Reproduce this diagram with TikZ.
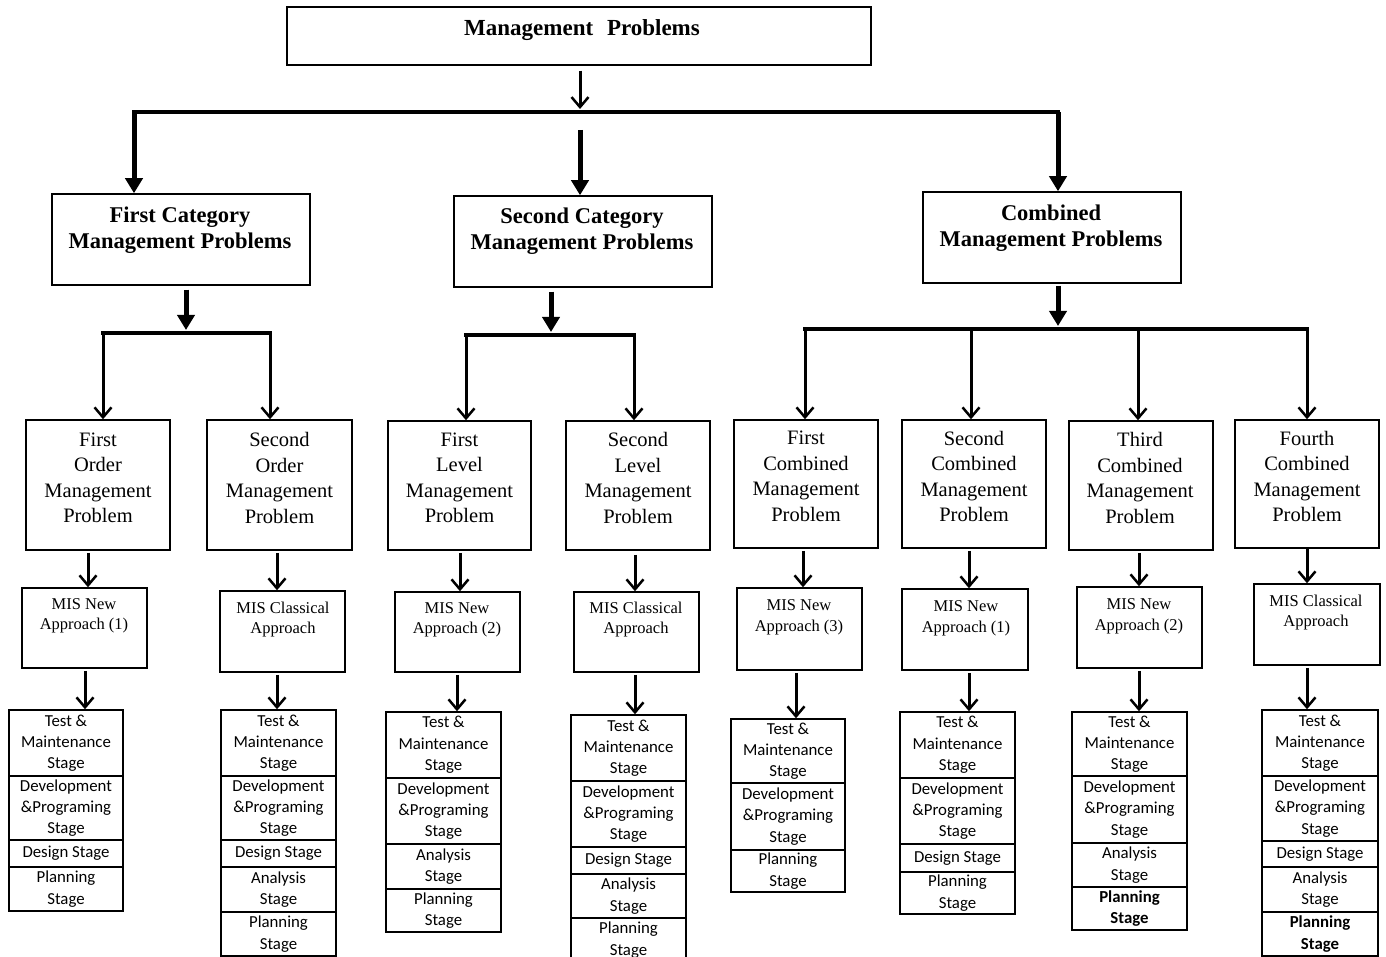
\documentclass[tikz,border=0pt]{standalone}
\usepackage{fontspec}
\setmainfont{Liberation Serif}
\newfontfamily\stagefont{Carlito}
\usetikzlibrary{arrows.meta,fit}
\tikzset{
  box/.style={draw, line width=1.5pt, inner sep=0pt},
  cell/.style={draw, line width=1.5pt, inner sep=0pt},
  celltxt/.style={align=center, inner sep=0pt, font=\stagefont\fontsize{16.8}{21.3}\selectfont},
  toptxt/.style={font=\bfseries\fontsize{23}{26}\selectfont, align=center, inner sep=0pt},
  cattxt/.style={font=\bfseries\fontsize{22.5}{26}\selectfont, align=center, inner sep=0pt},
  lvtxt/.style={font=\fontsize{20.5}{25.5}\selectfont, align=center, inner sep=0pt},
  mistxt/.style={font=\fontsize{16.5}{20.5}\selectfont, align=center, inner sep=0pt},
  bar/.style={line width=4.5pt, line cap=rect},
  thinarr/.style={line width=3pt, -{Straight Barb[length=10pt,width=17pt,line width=2.5pt]}},
  bigarr/.style={line width=5pt, -{Triangle[length=15pt,width=17pt]}},
  medarr/.style={line width=3pt, -{Straight Barb[length=10pt,width=17pt,line width=2.5pt]}},
}
\newcommand{\tbox}[6]{%
  \node[box, fit={#2 #3}] (#1) {};
  \node[#5] (#1-t) at #4 {#6};}
\newcommand{\stg}[4]{%
  \node[cell, fit={#2 #3}] (#1) {};
  \node[celltxt] (#1-t) at (#1.center) {#4};}
\newcommand{\TM}{Test \&\\Maintenance\\Stage}
\newcommand{\DP}{Development\\\&Programing\\Stage}
\newcommand{\DS}{Design Stage}
\newcommand{\AS}{Analysis\\Stage}
\newcommand{\PS}{Planning\\Stage}
\newcommand{\PSb}{\bfseries Planning\\\bfseries Stage}
\begin{document}
\begin{tikzpicture}[x=1pt,y=-1pt]
\useasboundingbox (0,0) rectangle (1386,957);
\fill[white] (0,0) rectangle (1386,957);

% top
\tbox{t}{(287,7)}{(871,65)}{(582,30)}{toptxt}{Management\hspace{0.35em} Problems}
% categories
\tbox{c1}{(52,194)}{(310,285)}{(180,230)}{cattxt}{First Category\\Management Problems}
\tbox{c2}{(454,196)}{(712,287)}{(582,231.5)}{cattxt}{Second Category\\Management Problems}
\tbox{c3}{(923,192)}{(1181,283)}{(1051,228)}{cattxt}{Combined\\Management Problems}

% level 3
\tbox{l1}{(26,420)}{(170,550)}{(98,478)}{lvtxt}{First\\Order\\Management\\Problem}
\tbox{l2}{(207,420)}{(352,550)}{(279.5,478)}{lvtxt}{Second\\Order\\Management\\Problem}
\tbox{l3}{(388,421)}{(531,550)}{(459.5,478)}{lvtxt}{First\\Level\\Management\\Problem}
\tbox{l4}{(566,421)}{(710,550)}{(638,478)}{lvtxt}{Second\\Level\\Management\\Problem}
\tbox{l5}{(734,420)}{(878,548)}{(806,476.5)}{lvtxt}{First\\Combined\\Management\\Problem}
\tbox{l6}{(902,420)}{(1046,548)}{(974,476.5)}{lvtxt}{Second\\Combined\\Management\\Problem}
\tbox{l7}{(1069,421)}{(1213,550)}{(1140,478)}{lvtxt}{Third\\Combined\\Management\\Problem}
\tbox{l8}{(1235,420)}{(1379,548)}{(1307,476.5)}{lvtxt}{Fourth\\Combined\\Management\\Problem}

% MIS boxes
\tbox{m1}{(22,588)}{(147,668)}{(84,616)}{mistxt}{MIS New\\Approach (1)}
\tbox{m2}{(220,591)}{(345,672)}{(283,619.5)}{mistxt}{MIS Classical\\Approach}
\tbox{m3}{(395,592)}{(520,672)}{(457,620)}{mistxt}{MIS New\\Approach (2)}
\tbox{m4}{(574,592)}{(699,672)}{(636,619.5)}{mistxt}{MIS Classical\\Approach}
\tbox{m5}{(737,588)}{(862,670)}{(799,617.5)}{mistxt}{MIS New\\Approach (3)}
\tbox{m6}{(902,589)}{(1028,670)}{(966,618.5)}{mistxt}{MIS New\\Approach (1)}
\tbox{m7}{(1077,587)}{(1202,668)}{(1139,616.5)}{mistxt}{MIS New\\Approach (2)}
\tbox{m8}{(1254,584)}{(1380,665)}{(1316,612.5)}{mistxt}{MIS Classical\\Approach}

% stage stacks
\stg{s1a}{(9,710)}{(123,776)}{\TM}
\stg{s1b}{(9,776)}{(123,840)}{\DP}
\stg{s1c}{(9,840)}{(123,867)}{\DS}
\stg{s1d}{(9,867)}{(123,911)}{\PS}

\stg{s2a}{(221,710)}{(336,776)}{\TM}
\stg{s2b}{(221,776)}{(336,840)}{\DP}
\stg{s2c}{(221,840)}{(336,867)}{\DS}
\stg{s2d}{(221,867)}{(336,912)}{\AS}
\stg{s2e}{(221,912)}{(336,956)}{\PS}

\stg{s3a}{(386,712)}{(501,778)}{\TM}
\stg{s3b}{(386,778)}{(501,844)}{\DP}
\stg{s3c}{(386,844)}{(501,889)}{\AS}
\stg{s3d}{(386,889)}{(501,932)}{\PS}

\stg{s4a}{(571,715)}{(686,781)}{\TM}
\stg{s4b}{(571,781)}{(686,847)}{\DP}
\stg{s4c}{(571,847)}{(686,874)}{\DS}
\stg{s4d}{(571,874)}{(686,918)}{\AS}
\stg{s4e}{(571,918)}{(686,962)}{\PS}

\stg{s5a}{(731,719)}{(845,783)}{\TM}
\stg{s5b}{(731,783)}{(845,850)}{\DP}
\stg{s5c}{(731,850)}{(845,892)}{\PS}

\stg{s6a}{(900,712)}{(1015,778)}{\TM}
\stg{s6b}{(900,778)}{(1015,844)}{\DP}
\stg{s6c}{(900,844)}{(1015,872)}{\DS}
\stg{s6d}{(900,872)}{(1015,914)}{\PS}

\stg{s7a}{(1072,712)}{(1187,776)}{\TM}
\stg{s7b}{(1072,776)}{(1187,843)}{\DP}
\stg{s7c}{(1072,843)}{(1187,887)}{\AS}
\stg{s7d}{(1072,887)}{(1187,930)}{\PSb}

\stg{s8a}{(1262,710)}{(1378,776)}{\TM}
\stg{s8b}{(1262,776)}{(1378,841)}{\DP}
\stg{s8c}{(1262,841)}{(1378,867)}{\DS}
\stg{s8d}{(1262,867)}{(1378,912)}{\AS}
\stg{s8e}{(1262,912)}{(1378,956)}{\PSb}

% ---- connectors: top level
\coordinate (b0) at (580,109);
\coordinate (b1) at (134,112);
\coordinate (b2) at (580,130);
\coordinate (b3) at (1058,112);
\draw[thinarr, shorten <=5pt] (t.south -| b0) -- (b0);
\draw[bar] (b1) -- (b3);
\draw[bigarr] (b1) -- (b1 |- c1.north);
\draw[bigarr] (b2) -- (b2 |- c2.north);
\draw[bigarr] (b3) -- (b3 |- c3.north);

% first category
\coordinate (k1) at (186,330);
\coordinate (j11) at (103,333);
\coordinate (j12) at (270,333);
\draw[bigarr, shorten <=4pt] (c1.south -| k1) -- (k1);
\draw[bar] (j11) -- (j12);
\draw[medarr] (j11) -- (j11 |- l1.north);
\draw[medarr] (j12) -- (j12 |- l2.north);

% second category
\coordinate (k2) at (551,332);
\coordinate (j21) at (466,335);
\coordinate (j22) at (634,335);
\draw[bigarr, shorten <=4pt] (c2.south -| k2) -- (k2);
\draw[bar] (j21) -- (j22);
\draw[medarr] (j21) -- (j21 |- l3.north);
\draw[medarr] (j22) -- (j22 |- l4.north);

% combined
\coordinate (k3) at (1058,326);
\coordinate (j31) at (805,329);
\coordinate (j32) at (971,329);
\coordinate (j33) at (1138,329);
\coordinate (j34) at (1307,329);
\draw[bigarr, shorten <=2pt] (c3.south -| k3) -- (k3);
\draw[bar] (j31) -- (j34);
\draw[medarr] (j31) -- (j31 |- l5.north);
\draw[medarr] (j32) -- (j32 |- l6.north);
\draw[medarr] (j33) -- (j33 |- l7.north);
\draw[medarr] (j34) -- (j34 |- l8.north);

% level 3 -> MIS
\coordinate (a1) at (88,0);   \draw[medarr, shorten <=2pt] (l1.south -| a1) -- (m1.north -| a1);
\coordinate (a2) at (277,0);  \draw[medarr, shorten <=2pt] (l2.south -| a2) -- (m2.north -| a2);
\coordinate (a3) at (460,0);  \draw[medarr, shorten <=2pt] (l3.south -| a3) -- (m3.north -| a3);
\coordinate (a4) at (635,0);  \draw[medarr, shorten <=4pt] (l4.south -| a4) -- (m4.north -| a4);
\coordinate (a5) at (803,0);  \draw[medarr, shorten <=2pt] (l5.south -| a5) -- (m5.north -| a5);
\coordinate (a6) at (969,0);  \draw[medarr, shorten <=2pt] (l6.south -| a6) -- (m6.north -| a6);
\coordinate (a7) at (1139,0); \draw[medarr, shorten <=2pt] (l7.south -| a7) -- (m7.north -| a7);
\coordinate (a8) at (1307,0); \draw[medarr] (l8.south -| a8) -- (m8.north -| a8);

% MIS -> stages
\coordinate (d1) at (85,0);   \draw[medarr, shorten <=2pt] (m1.south -| d1) -- (s1a.north -| d1);
\coordinate (d2) at (277,0);  \draw[medarr, shorten <=2pt] (m2.south -| d2) -- (s2a.north -| d2);
\coordinate (d3) at (457,0);  \draw[medarr, shorten <=2pt] (m3.south -| d3) -- (s3a.north -| d3);
\coordinate (d4) at (635,0);  \draw[medarr, shorten <=2pt] (m4.south -| d4) -- (s4a.north -| d4);
\coordinate (d5) at (796,0);  \draw[medarr, shorten <=2pt] (m5.south -| d5) -- (s5a.north -| d5);
\coordinate (d6) at (969,0);  \draw[medarr, shorten <=2pt] (m6.south -| d6) -- (s6a.north -| d6);
\coordinate (d7) at (1139,0); \draw[medarr, shorten <=2pt] (m7.south -| d7) -- (s7a.north -| d7);
\coordinate (d8) at (1307,0); \draw[medarr, shorten <=2pt] (m8.south -| d8) -- (s8a.north -| d8);
\end{tikzpicture}
\end{document}
